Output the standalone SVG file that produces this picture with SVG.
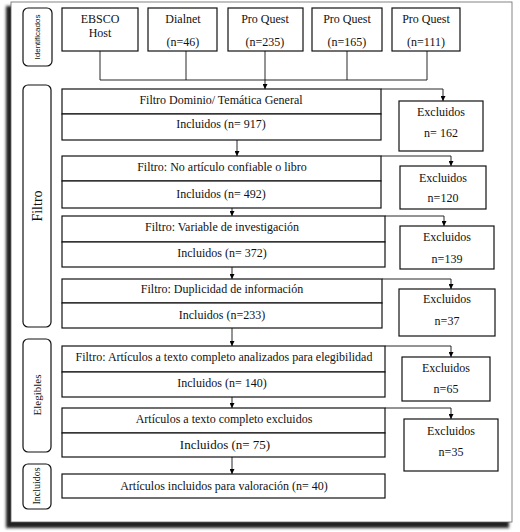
<svg xmlns="http://www.w3.org/2000/svg" width="520" height="532" viewBox="0 0 520 532">
<defs>
<filter id="sh" x="-5%" y="-5%" width="110%" height="110%"><feGaussianBlur stdDeviation="1.5"/></filter>
<marker id="ah" viewBox="0 0 10 10" refX="10" refY="5" markerWidth="5" markerHeight="5" orient="auto" markerUnits="userSpaceOnUse"><path d="M0,0 L10,5 L0,10 z" fill="#000"/></marker>
<style>
.bx{fill:#fff;stroke:#111;stroke-width:1.2}
.sd{fill:#fff;stroke:#111;stroke-width:1.2}
.t{font-family:"Liberation Serif","Times New Roman",serif;font-size:12px;fill:#111;text-anchor:middle}
.c{fill:none;stroke:#111;stroke-width:0.9}
.ar{fill:none;stroke:#111;stroke-width:0.9;marker-end:url(#ah)}
</style>
</defs>
<rect x="6" y="6" width="503" height="522" fill="#222" filter="url(#sh)"/>
<rect x="11" y="2" width="501" height="520" fill="#fff" stroke="#666" stroke-width="0.8"/>

<g id="lbl-identificados"><rect class="sd" x="23" y="8" width="29" height="58" rx="5"/><text transform="translate(40,37) rotate(-90)" style="font-family:'Liberation Sans',Arial,sans-serif;font-size:8px;fill:#111;text-anchor:middle">Identificados</text></g>
<g id="lbl-filtro"><rect class="sd" x="23" y="85" width="28" height="242" rx="5"/><text transform="translate(42,206) rotate(-90)" style="font-family:'Liberation Serif',serif;font-size:14px;fill:#111;text-anchor:middle">Filtro</text></g>
<g id="lbl-elegibles"><rect class="sd" x="23" y="339" width="28" height="113" rx="5"/><text transform="translate(41,395) rotate(-90)" style="font-family:'Liberation Serif',serif;font-size:11px;fill:#111;text-anchor:middle">Elegibles</text></g>
<g id="lbl-incluidos"><rect class="sd" x="23" y="464" width="28" height="45" rx="5"/><text transform="translate(40,486) rotate(-90)" style="font-family:'Liberation Serif',serif;font-size:10px;fill:#111;text-anchor:middle">Incluidos</text></g>

<g id="src-ebsco"><rect class="bx" x="62" y="8" width="76" height="43"/><text class="t" x="100" y="23">EBSCO</text><text class="t" x="100" y="37">Host</text></g>
<g id="src-dialnet"><rect class="bx" x="148" y="8" width="69" height="43"/><text class="t" x="183" y="23">Dialnet</text><text class="t" x="183" y="46">(n=46)</text></g>
<g id="src-pq235"><rect class="bx" x="228" y="8" width="75" height="43"/><text class="t" x="265" y="23">Pro Quest</text><text class="t" x="265" y="46">(n=235)</text></g>
<g id="src-pq165"><rect class="bx" x="312" y="8" width="70" height="43"/><text class="t" x="347" y="23">Pro Quest</text><text class="t" x="347" y="46">(n=165)</text></g>
<g id="src-pq111"><rect class="bx" x="392" y="8" width="68" height="43"/><text class="t" x="426" y="23">Pro Quest</text><text class="t" x="426" y="46">(n=111)</text></g>

<g id="f1"><rect class="bx" x="62" y="89" width="319" height="25"/><rect class="bx" x="62" y="114" width="319" height="26"/><text class="t" x="221" y="104">Filtro Dominio/ Temática General</text><text class="t" x="221" y="128">Incluidos (n= 917)</text></g>
<g id="f2"><rect class="bx" x="62" y="156" width="319" height="25"/><rect class="bx" x="62" y="181" width="319" height="27"/><text class="t" x="222" y="171">Filtro: No artículo confiable o libro</text><text class="t" x="221" y="198">Incluidos (n= 492)</text></g>
<g id="f3"><rect class="bx" x="62" y="216" width="323" height="26"/><rect class="bx" x="62" y="242" width="323" height="25"/><text class="t" x="222" y="231">Filtro: Variable de investigación</text><text class="t" x="222" y="257">Incluidos (n= 372)</text></g>
<g id="f4"><rect class="bx" x="62" y="279" width="320" height="24"/><rect class="bx" x="62" y="303" width="320" height="25"/><text class="t" x="222" y="293">Filtro: Duplicidad de información</text><text class="t" x="222" y="319">Incluidos (n=233)</text></g>
<g id="f5"><rect class="bx" x="62" y="346" width="323" height="26"/><rect class="bx" x="62" y="372" width="323" height="25"/><text class="t" x="224" y="361">Filtro: Artículos a texto completo analizados para elegibilidad</text><text class="t" x="222" y="387">Incluidos (n= 140)</text></g>
<g id="f6"><rect class="bx" x="62" y="408" width="323" height="25"/><rect class="bx" x="62" y="433" width="323" height="24"/><text class="t" x="224" y="423">Artículos a texto completo excluidos</text><text class="t" x="225" y="449" style="font-size:13px">Incluidos (n= 75)</text></g>
<g id="f7"><rect class="bx" x="62" y="474" width="323" height="24"/><text class="t" x="224" y="490">Artículos incluidos para valoración (n= 40)</text></g>

<g id="e1"><rect class="bx" x="399" y="101" width="84" height="50"/><text class="t" x="441" y="116">Excluidos</text><text class="t" x="441" y="137">n= 162</text></g>
<g id="e2"><rect class="bx" x="400" y="166" width="86" height="43"/><text class="t" x="443" y="182">Excluidos</text><text class="t" x="443" y="202">n=120</text></g>
<g id="e3"><rect class="bx" x="400" y="226" width="94" height="43"/><text class="t" x="447" y="241">Excluidos</text><text class="t" x="447" y="263">n=139</text></g>
<g id="e4"><rect class="bx" x="399" y="289" width="96" height="47"/><text class="t" x="447" y="303">Excluidos</text><text class="t" x="447" y="325">n=37</text></g>
<g id="e5"><rect class="bx" x="402" y="357" width="88" height="44"/><text class="t" x="446" y="372">Excluidos</text><text class="t" x="446" y="393">n=65</text></g>
<g id="e6"><rect class="bx" x="404" y="419" width="94" height="52"/><text class="t" x="451" y="435">Excluidos</text><text class="t" x="451" y="456">n=35</text></g>

<g id="connectors">
<path class="c" d="M100,51 V80 H427 V51 M186,51 V80 M347,51 V80"/>
<path class="ar" d="M265,51 V89"/>
<path class="ar" d="M381,89 H443 V101"/>
<path class="ar" d="M237,140 V156"/>
<path class="ar" d="M381,156 H451 V166"/>
<path class="ar" d="M232,208 V216"/>
<path class="ar" d="M385,216 H444 V226"/>
<path class="ar" d="M232,267 V279"/>
<path class="ar" d="M382,279 H451 V289"/>
<path class="ar" d="M232,328 V346"/>
<path class="ar" d="M385,346 H451 V357"/>
<path class="ar" d="M232,397 V408"/>
<path class="ar" d="M385,408 H451 V419"/>
<path class="ar" d="M232,457 V474"/>
</g>
</svg>
